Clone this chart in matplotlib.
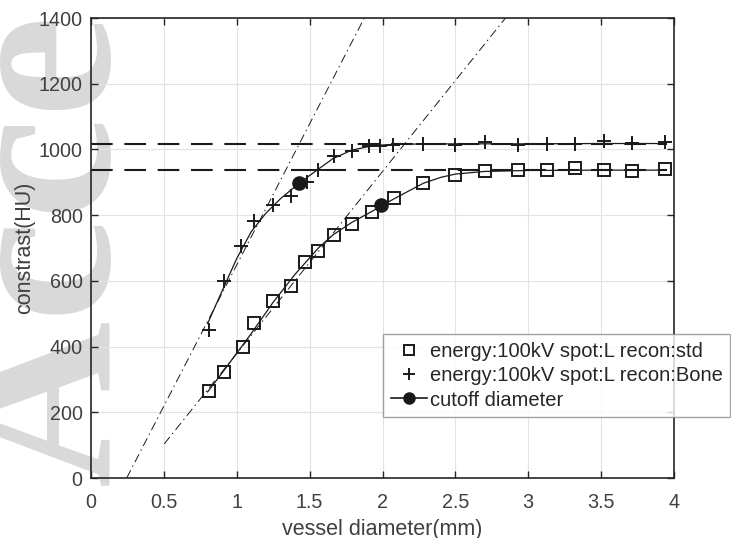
import matplotlib

matplotlib.use("Agg")

import matplotlib.pyplot as plt
from matplotlib.lines import Line2D

# -----------------------------
# data
# -----------------------------
STD_D = [0.81, 0.91, 1.04, 1.12, 1.25, 1.37, 1.47, 1.56, 1.67, 1.79, 1.93,
         2.08, 2.28, 2.50, 2.70, 2.93, 3.13, 3.32, 3.52, 3.71, 3.94]
STD_HU = [266, 322, 400, 473, 540, 585, 656, 690, 739, 774, 810,
          851, 899, 921, 933, 936, 936, 942, 936, 935, 940]

BONE_D = [0.81, 0.91, 1.03, 1.12, 1.25, 1.37, 1.48, 1.56, 1.67, 1.79, 1.91,
          1.98, 2.07, 2.28, 2.50, 2.70, 2.93, 3.13, 3.32, 3.52, 3.71, 3.94]
BONE_HU = [449, 600, 705, 781, 830, 857, 900, 936, 981, 996, 1010,
           1010, 1012, 1017, 1014, 1022, 1015, 1017, 1017, 1025, 1019, 1023]

# fitted curves
STD_FIT_D = [0.80, 0.90, 1.00, 1.10, 1.25, 1.40, 1.56, 1.66, 1.79, 1.93,
             2.08, 2.28, 2.40, 2.50, 2.70, 3.00, 3.50, 3.94]
STD_FIT_HU = [262, 320, 380, 440, 535, 620, 700, 740, 778, 812,
              850, 897, 915, 925, 933, 936, 937, 937]

BONE_FIT_D = [0.80, 0.90, 1.00, 1.10, 1.20, 1.30, 1.43, 1.56, 1.66, 1.79,
              1.94, 2.10, 2.50, 3.00, 3.50, 3.94]
BONE_FIT_HU = [470, 570, 668, 750, 806, 850, 898, 940, 972, 998,
               1012, 1016, 1017, 1017, 1018, 1018]

# saturation levels (dashed) and tangents (dash-dot)
SAT_HU = [1017, 936]
SAT_D = [0.0, 3.95]
BONE_TAN_D = [0.245, 1.875]
BONE_TAN_HU = [0, 1400]
STD_TAN_D = [0.503, 2.844]
STD_TAN_HU = [104, 1400]

# cutoff diameters
CUT_D = [1.43, 1.99]
CUT_HU = [898, 832]

LABELS = ["energy:100kV spot:L recon:std",
          "energy:100kV spot:L recon:Bone",
          "cutoff diameter"]

DARK = "#262626"
TXT = "#404040"

plt.rcParams["font.family"] = ["Liberation Sans", "DejaVu Sans"]

fig = plt.figure(figsize=(7.31, 5.38), dpi=100)
fig.patch.set_facecolor("white")

# watermark behind the axes, reading bottom to top, baseline near x=108 px
fig.text(108 / 731, 1 - 485 / 538, "Acce", rotation=90, rotation_mode="anchor",
         ha="left", va="baseline", fontsize=166, family="Liberation Serif",
         fontweight="bold", color="#d9d9d9", zorder=-5)

ax = fig.add_axes([91 / 731, 1 - 478 / 538, 583 / 731, 460 / 538])
ax.patch.set_alpha(0)

ax.set_xlim(0, 4)
ax.set_ylim(0, 1400)
ax.set_xticks([0, 0.5, 1, 1.5, 2, 2.5, 3, 3.5, 4])
ax.set_xticklabels(["0", "0.5", "1", "1.5", "2", "2.5", "3", "3.5", "4"])
ax.set_yticks(range(0, 1401, 200))
ax.grid(True, color="#e3e3e3", linewidth=0.8)
ax.set_axisbelow(True)
ax.tick_params(direction="in", length=5, width=1, colors=DARK, labelcolor=TXT,
               labelsize=14.2, top=True, right=True)
ax.tick_params(axis="x", pad=11)
ax.tick_params(axis="y", pad=6)
for s in ax.spines.values():
    s.set_color(DARK)
    s.set_linewidth(1.2)

# saturation lines
for hu in SAT_HU:
    ax.plot(SAT_D, [hu, hu], color="#1a1a1a", linewidth=1.5, dashes=(10.4, 5.6), zorder=2)

# tangents
ax.plot(BONE_TAN_D, BONE_TAN_HU, color="#1a1a1a", linewidth=0.7, dashes=(9, 4, 1.5, 4), zorder=2)
ax.plot(STD_TAN_D, STD_TAN_HU, color="#1a1a1a", linewidth=0.7, dashes=(9, 4, 1.5, 4), zorder=2)

# fitted curves
ax.plot(STD_FIT_D, STD_FIT_HU, color="#1a1a1a", linewidth=0.9, zorder=3)
ax.plot(BONE_FIT_D, BONE_FIT_HU, color="#1a1a1a", linewidth=0.9, zorder=3)

# measured points
ax.plot(STD_D, STD_HU, linestyle="none", marker="s", markersize=8.5,
        markerfacecolor="none", markeredgecolor="#1a1a1a", markeredgewidth=1.4, zorder=4)
ax.plot(BONE_D, BONE_HU, linestyle="none", marker="+", markersize=10,
        markeredgecolor="#1a1a1a", markeredgewidth=1.4, zorder=4)
ax.plot(CUT_D, CUT_HU, linestyle="none", marker="o", markersize=9.5,
        color="#1a1a1a", zorder=5)

ax.set_xlabel("vessel diameter(mm)", fontsize=15.5, color=TXT, labelpad=4.5)
ax.set_ylabel("constrast(HU)", fontsize=15.5, color=TXT, labelpad=2.5)

handles = [
    Line2D([], [], linestyle="none", marker="s", markersize=7, markerfacecolor="none",
           markeredgecolor="#1a1a1a", markeredgewidth=1.4),
    Line2D([], [], linestyle="none", marker="+", markersize=9,
           markeredgecolor="#1a1a1a", markeredgewidth=1.4),
    Line2D([], [], color="#1a1a1a", linewidth=1.2, marker="o", markersize=8),
]
leg = fig.legend(handles, LABELS, loc="upper left",
                 bbox_to_anchor=(383 / 731, 1 - 334 / 538), borderaxespad=0,
                 fontsize=14.5, frameon=True, fancybox=False, handlelength=1.8,
                 handletextpad=0.15, borderpad=0.38, labelspacing=0.27)
leg.get_frame().set_edgecolor("#8c8c8c")
leg.get_frame().set_linewidth(1.0)
for t in leg.get_texts():
    t.set_color(DARK)

plt.savefig("out.png", dpi=100)
